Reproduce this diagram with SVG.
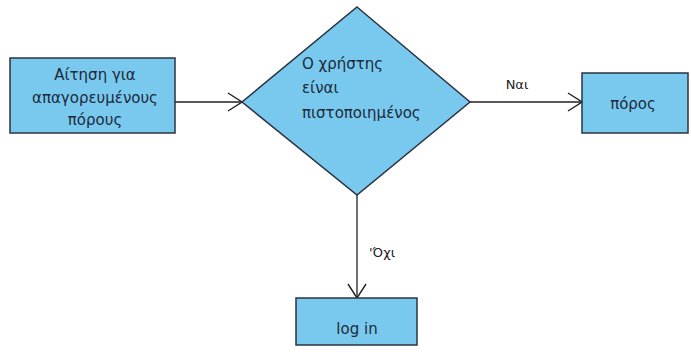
<svg xmlns="http://www.w3.org/2000/svg" width="691" height="359" viewBox="0 0 691 359">
  <style>
    .shape { fill: #79c9ef; stroke: #2a3340; stroke-width: 1.5; }
    .label { font-family: "DejaVu Sans", "Liberation Sans", sans-serif; font-size: 15px; fill: #1c2a3a; }
    .mid { text-anchor: middle; }
    .edge { fill: none; stroke: #222; stroke-width: 1.3; }
    .edge-label { font-family: "DejaVu Sans", "Liberation Sans", sans-serif; font-size: 13px; fill: #222; }
  </style>
  <defs>
    <marker id="open-arrow" viewBox="0 0 16 20" refX="15" refY="10" markerWidth="16" markerHeight="20" markerUnits="userSpaceOnUse" orient="auto">
      <path d="M1,1 L15,10 L1,19" fill="none" stroke="#222" stroke-width="1.4"/>
    </marker>
  </defs>
  <rect width="691" height="359" fill="#ffffff"/>

  <g id="connectors">
    <line class="edge" x1="175" y1="102" x2="242" y2="102" marker-end="url(#open-arrow)"/>
    <line class="edge" x1="470" y1="102" x2="582" y2="102" marker-end="url(#open-arrow)"/>
    <line class="edge" x1="357" y1="195" x2="357" y2="298" marker-end="url(#open-arrow)"/>
    <text class="edge-label mid" x="517" y="89">Ναι</text>
    <text class="edge-label" x="369" y="257">'Όχι</text>
  </g>

  <g id="request">
    <rect class="shape" x="10" y="58" width="165" height="75"/>
    <text class="label mid" x="95" y="80">Αίτηση για</text>
    <text class="label mid" x="95" y="103">απαγορευμένους</text>
    <text class="label mid" x="95" y="125">πόρους</text>
  </g>

  <g id="decision">
    <polygon class="shape" points="357,7 470,102 357,195 242,102"/>
    <text class="label" x="302" y="69">Ο χρήστης</text>
    <text class="label" x="302" y="93">είναι</text>
    <text class="label" x="302" y="118">πιστοποιημένος</text>
  </g>

  <g id="resource">
    <rect class="shape" x="582" y="73" width="106" height="60"/>
    <text class="label mid" x="633" y="109">πόρος</text>
  </g>

  <g id="login">
    <rect class="shape" x="296" y="298" width="121" height="47"/>
    <text class="label mid" x="357" y="334">log in</text>
  </g>
</svg>
